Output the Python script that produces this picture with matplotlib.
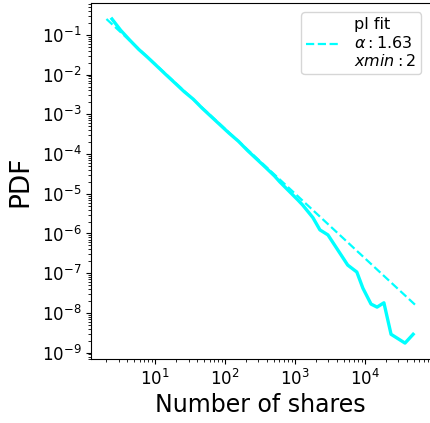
import numpy as np
import matplotlib
matplotlib.use("Agg")
import matplotlib.pyplot as plt

shares = [2.4, 3.2, 4.3, 5.8, 7.8, 10.5, 14, 19, 26, 35, 47, 63, 85, 115, 155,
          210, 280, 380, 510, 605, 1108, 1290, 1810, 2280, 2970, 5700, 7700,
          9400, 12300, 15000, 18800, 23800, 37700, 49300]
pdf = [0.25, 0.13, 0.074, 0.043, 0.027, 0.0165, 0.0102, 0.0062, 0.0037, 0.0024,
       0.00142, 0.00088, 5.4e-4, 3.3e-4, 2.1e-4, 1.22e-4, 7.6e-5, 4.6e-5,
       2.8e-5, 2.0e-5, 6.9e-6, 5.2e-6, 2.5e-6, 1.23e-6, 9.2e-7, 1.6e-7,
       1.07e-7, 4.2e-8, 1.67e-8, 1.4e-8, 1.8e-8, 2.9e-9, 1.74e-9, 2.9e-9]

# power-law fit line endpoints
fit_x = [2, 52700]
fit_y = [0.25, 1.6e-8]
fit_label = "pl fit\n$\\alpha: 1.63$\n$xmin: 2$"

fig = plt.figure(figsize=(4.30, 4.23), dpi=100)
ax = fig.add_axes([91 / 430, (423 - 359.3) / 423, (430.6 - 91) / 430, (359.3 - 2.8) / 423])

ax.loglog(shares, pdf, color="cyan", lw=2.4)
ax.loglog(fit_x, fit_y, color="cyan", lw=1.6, ls="--", label=fit_label)

ax.set_xlabel("Number of shares", fontsize=17, labelpad=3)
ax.set_ylabel("PDF", fontsize=19, labelpad=6)
ax.tick_params(labelsize=12)
ax.legend(loc="upper right", fontsize=11.5, borderpad=0.3, handlelength=2.2,
          borderaxespad=0.6)

fig.savefig("out.png", dpi=100)
